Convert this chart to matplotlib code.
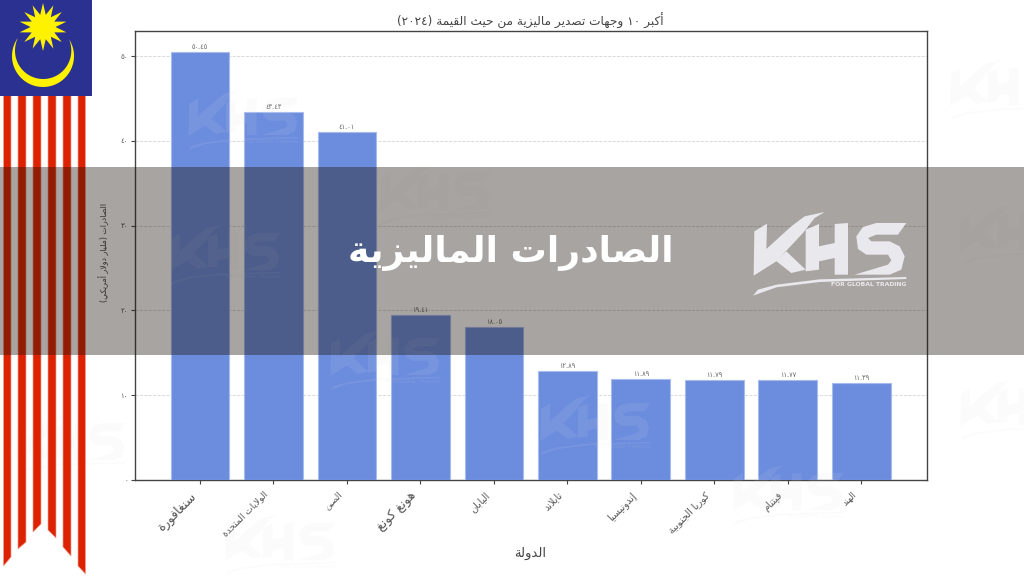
import re
import unicodedata
import numpy as np
import matplotlib
matplotlib.use("Agg")
import matplotlib.pyplot as plt
from matplotlib.patches import Polygon, Rectangle
from matplotlib.transforms import ScaledTranslation

# ---------- data ----------
countries = ["سنغافورة", "الولايات المتحدة", "الصين", "هونغ كونغ", "اليابان",
             "تايلاند", "إندونيسيا", "كوريا الجنوبية", "فيتنام", "الهند"]
values = [50.45, 43.43, 41.01, 19.41, 18.05, 12.89, 11.89, 11.79, 11.77, 11.39]
y_ticks = [0, 10, 20, 30, 40, 50]
label_sizes = [9, 6.5, 6.2, 9, 7, 7, 7, 7, 7, 6.2]
chart_title = "أكبر ١٠ وجهات تصدير ماليزية من حيث القيمة (٢٠٢٤)"
x_title = "الدولة"
y_title = "الصادرات (مليار دولار أمريكي)"
banner_title = "الصادرات الماليزية"

# ---------- Arabic shaping (matplotlib does not shape or reorder) ----------
FORMS, LIGS = {}, {}
for cp in range(0xFE70, 0xFEFD):
    m = re.match(r"<(\w+)> (.*)", unicodedata.decomposition(chr(cp)))
    if not m:
        continue
    base = "".join(chr(int(h, 16)) for h in m.group(2).split())
    (LIGS if len(base) == 2 and base[0] == "ل" else FORMS).setdefault(base, {})[m.group(1)] = chr(cp)


def shape_word(word):
    for pair in LIGS:
        word = word.replace(pair, "\uE000" + pair[1])
    out = []
    chars = list(word)
    prev_joins = False
    i = 0
    while i < len(chars):
        c = chars[i]
        if c == "\uE000":
            f = LIGS["ل" + chars[i + 1]]
            out.append(f["final"] if prev_joins else f["isolated"])
            prev_joins = False
            i += 2
            continue
        f = FORMS.get(c)
        nxt = chars[i + 1] if i + 1 < len(chars) else None
        next_ok = nxt == "\uE000" or (nxt in FORMS if nxt else False)
        can_init = f is not None and "initial" in f
        if f is None:
            out.append(c)
            prev_joins = False
        elif prev_joins and can_init and next_ok:
            out.append(f["medial"])
            prev_joins = True
        elif prev_joins:
            out.append(f["final"])
            prev_joins = False
        elif can_init and next_ok:
            out.append(f["initial"])
            prev_joins = True
        else:
            out.append(f["isolated"])
            prev_joins = False
        i += 1
    return "".join(reversed(out))


def ar(text):
    tokens = re.findall(r"[\u0621-\u064A]+|[\u0660-\u0669.0-9]+|.", text)
    mirror = {"(": ")", ")": "("}
    res = []
    for t in tokens:
        if re.match(r"[\u0621-\u064A]", t):
            res.append(shape_word(t))
        else:
            res.append(mirror.get(t, t))
    return "".join(reversed(res))


def indic(s):
    return str(s).translate(str.maketrans("0123456789", "٠١٢٣٤٥٦٧٨٩"))


plt.rcParams["font.family"] = ["DejaVu Sans"]

fig = plt.figure(figsize=(10.24, 5.76), dpi=100, facecolor="white")
W, H = 1024.0, 576.0
ax = fig.add_axes([135 / W, 1 - 480 / H, (927 - 135) / W, (480 - 31) / H])

x = np.arange(len(countries))
bars = ax.bar(x, values, width=0.8, color="#6C8CDE", edgecolor="#A6BBEE", linewidth=0.8, zorder=3)
ax.set_xlim(-0.885, 9.895)
ax.set_ylim(0, 52.95)
ax.grid(axis="y", linestyle="--", color="#D4D4D4", linewidth=0.6, zorder=0)
ax.set_axisbelow(True)
ax.set_yticks(y_ticks)
ax.set_yticklabels([indic(v) for v in y_ticks], fontsize=5, color="#555555")
ax.set_xticks(x)
ax.set_xticklabels([ar(c) for c in countries], rotation=45, ha="right", rotation_mode="anchor", color="#555555")
ax.tick_params(axis="y", length=3, width=0.8, color="#444444", pad=2)
ax.tick_params(axis="x", length=3, width=0.8, color="#444444", pad=4)
shift = ScaledTranslation(-10 / 100, 0, fig.dpi_scale_trans)
for t, s in zip(ax.get_xticklabels(), label_sizes):
    t.set_fontsize(s)
    t.set_transform(t.get_transform() + shift)
for sp in ax.spines.values():
    sp.set_color("#444444")
    sp.set_linewidth(1.0)
for b, v in zip(bars, values):
    ax.text(b.get_x() + b.get_width() / 2, v + 0.25, indic(f"{v:.2f}"), ha="center", va="bottom",
            fontsize=4.8, color="#666666")
fig.text(530 / W, 1 - 21 / H, ar(chart_title), ha="center", va="center", fontsize=8.7, color="#444444")
fig.text(530 / W, 1 - 553 / H, ar(x_title), ha="center", va="center", fontsize=9.5, color="#444444")
fig.text(104 / W, 1 - 252 / H, ar(y_title), ha="center", va="center", rotation=90, fontsize=5.7, color="#444444")

# ---------- overlay in image pixel coordinates ----------
ov = fig.add_axes([0, 0, 1, 1], zorder=10)
ov.set_xlim(0, W)
ov.set_ylim(H, 0)
ov.axis("off")
ov.patch.set_alpha(0)

K1 = [(102, 258), (104, 125), (142, 102), (140, 178), (215, 110), (255, 80), (315, 67), (285, 85), (250, 130), (170, 215)]
K2 = [(168, 213), (200, 185), (258, 240), (215, 250)]
HH = [(258, 120), (298, 103), (298, 170), (345, 160), (345, 103), (385, 100), (385, 255), (345, 255), (345, 205),
      (298, 215), (298, 240), (258, 245)]
SS = [(560, 100), (470, 100), (430, 112), (410, 140), (415, 178), (440, 195), (505, 195), (515, 212), (505, 225),
      (405, 255), (510, 255), (545, 240), (555, 200), (540, 170), (510, 155), (455, 155), (445, 145), (470, 135),
      (535, 135)]
SW = [(100, 318), (115, 300), (170, 285), (300, 269), (560, 262), (560, 268), (300, 277), (170, 293)]


def logo(x0, y0, s, color, alpha, z, text=False):
    def tr(p):
        return [(x0 + (a - 100) / 3 * s, y0 + (b - 67) / 3 * s) for a, b in p]
    for poly in (K1, K2, HH, SS, SW):
        ov.add_patch(Polygon(tr(poly), closed=True, fc=color, ec="none", alpha=alpha, zorder=z))
    if text:
        ov.text(x0 + (447 - 100) / 3 * s, y0 + (284 - 67) / 3 * s, "FOR GLOBAL TRADING", ha="center", va="center",
                fontsize=4.4 * s, fontweight="bold", color=color, alpha=alpha, zorder=z)


for wx, wy, has_text in [(188, 90, True), (170, 225, True), (330, 330, True), (540, 395, True), (733, 465, True),
                         (950, 60, False), (960, 205, False), (960, 380, False), (380, 165, True), (225, 515, True),
                         (15, 415, False)]:
    logo(wx, wy, 0.72, "#DEDEE8", 0.10, 1, text=has_text)

# ribbon stripes
stripes = [(3.5, 11, 566, 557), (18, 26, 549, 542), (33, 41, 532, 524), (48, 56, 530, 538), (63, 71, 547, 556),
           (78, 85.5, 566, 574)]
for l, r, yl, yr in stripes:
    ov.add_patch(Polygon([(l, 90), (r, 90), (r, yr), (l, yl)], closed=True, fc="#DC2200", ec="#F0A090", lw=0.5, zorder=2))

# flag canton
FLAG = "#2B3190"
GOLD = "#FFF200"
ov.add_patch(Rectangle((0, 0), 91.5, 95.5, fc=FLAG, ec="none", zorder=3))
u = np.linspace(0, 1, 80)
th = np.radians(216 + (-32.6 - 216) * u)
r_in = 31 - 8 * np.sin(np.pi * u)
cres = np.r_[np.c_[43 + 31 * np.cos(th), 56 + 31 * np.sin(th)],
             np.c_[43 + r_in * np.cos(th), 56 + r_in * np.sin(th)][::-1]]
ov.add_patch(Polygon(cres, closed=True, fc=GOLD, ec="none", zorder=4))
n = 14
ang = np.linspace(0, 2 * np.pi, 2 * n, endpoint=False) - np.pi / 2
rad = np.where(np.arange(2 * n) % 2 == 0, 24, 12.5)
ov.add_patch(Polygon(np.c_[43 + rad * np.cos(ang), 27 + rad * np.sin(ang)], closed=True, fc=GOLD, ec="none", zorder=6))

# grey band
ov.add_patch(Rectangle((0, 167), W, 188, fc=(0.10, 0.07, 0.03), ec="none", alpha=0.38, zorder=7))
ov.text(511, 253, ar(banner_title), ha="center", va="center", fontsize=26, fontweight="bold", color="white", zorder=9)
logo(753, 212, 1.0, "#E9E8EC", 1.0, 9, text=True)

fig.savefig("out.png", dpi=100)
